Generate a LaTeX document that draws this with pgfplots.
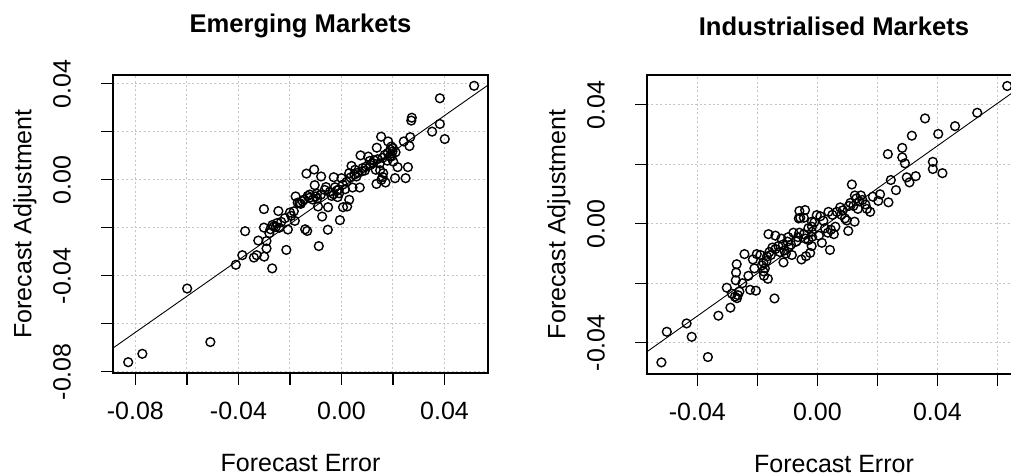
\documentclass[border=0pt]{standalone}
\usepackage{pgfplots}
\usepackage{pgfplotstable}
\pgfplotsset{compat=1.18}
\usepackage{fontspec}
\setmainfont{Liberation Sans}

\pgfplotsset{
  rpanel/.style={
    scale only axis,
    width=187.5pt, height=149pt,
    font=\fontsize{12.5pt}{15pt}\selectfont,
    scaled ticks=false,
    axis line style={line width=0.65pt},
    every tick/.style={black, line width=0.6pt},
    tick align=outside,
    major tick length=6pt,
    xtick pos=bottom, ytick pos=left,
    grid=major,
    major grid style={gray!45, line width=0.5pt, dash pattern=on 1pt off 1.2pt},
    yticklabel style={rotate=90, anchor=south},
    yticklabel shift=11.5pt,
    xticklabel style={anchor=north, yshift=-2pt},
    xticklabel shift=3pt,
    title style={at={(axis description cs:0.5,1)}, anchor=center, yshift=18.5pt,
                 font=\fontsize{12.8pt}{15pt}\selectfont\bfseries},
    xlabel style={at={(axis description cs:0.5,0)}, anchor=center, yshift=-45pt},
    every axis y label/.style={at={(axis description cs:0,0.5)}, xshift=-44pt,
                 rotate=90, anchor=center},
  },
  pts/.style={only marks, mark=o, mark size=2.2pt, mark options={line width=0.7pt, black}},
  fit/.style={black, line width=0.45pt, no marks},
}

% forecast error (x) against forecast adjustment (y), emerging markets
\pgfplotstableread{
x y
-0.0828 -0.0760
-0.0773 -0.0725
-0.0599 -0.0453
-0.0509 -0.0676
-0.0410 -0.0354
-0.0385 -0.0314
-0.0374 -0.0214
-0.0340 -0.0324
-0.0329 -0.0314
-0.0323 -0.0253
-0.0301 -0.0122
-0.0301 -0.0199
-0.0300 -0.0320
-0.0291 -0.0286
-0.0291 -0.0255
-0.0269 -0.0369
-0.0276 -0.0206
-0.0263 -0.0194
-0.0268 -0.0188
-0.0245 -0.0130
-0.0242 -0.0200
-0.0234 -0.0175
-0.0214 -0.0292
-0.0208 -0.0207
-0.0200 -0.0136
-0.0185 -0.0131
-0.0178 -0.0069
-0.0181 -0.0171
-0.0163 -0.0097
-0.0151 -0.0089
-0.0141 -0.0206
-0.0136 0.0026
-0.0133 -0.0213
-0.0131 -0.0067
-0.0123 -0.0061
-0.0106 0.0043
-0.0104 -0.0022
-0.0100 -0.0069
-0.0094 -0.0078
-0.0091 -0.0111
-0.0088 -0.0276
-0.0079 0.0014
-0.0075 -0.0153
-0.0065 -0.0042
-0.0053 -0.0208
-0.0052 -0.0114
-0.0038 -0.0067
-0.0030 0.0011
-0.0025 -0.0031
-0.0017 -0.0044
-0.0009 -0.0056
-0.0006 -0.0168
0.0000 0.0007
0.0006 -0.0114
0.0014 -0.0039
0.0022 -0.0111
0.0030 -0.0083
0.0030 0.0028
0.0039 0.0058
0.0043 -0.0032
0.0053 0.0042
0.0058 0.0014
0.0071 -0.0032
0.0074 0.0102
0.0082 0.0049
0.0091 0.0039
0.0104 0.0097
0.0110 0.0079
0.0123 0.0069
0.0133 0.0042
0.0137 0.0134
0.0136 -0.0017
0.0149 0.0069
0.0154 0.0180
0.0155 0.0000
0.0162 0.0028
0.0168 0.0104
0.0171 -0.0011
0.0181 0.0160
0.0188 0.0097
0.0194 0.0139
0.0198 0.0118
0.0201 0.0076
0.0208 0.0007
0.0218 0.0053
0.0242 0.0160
0.0249 0.0007
0.0258 0.0053
0.0264 0.0141
0.0267 0.0178
0.0271 0.0247
0.0273 0.0259
0.0352 0.0201
0.0382 0.0340
0.0382 0.0233
0.0401 0.0170
0.0515 0.0392
-0.0170 -0.0095
-0.0158 -0.0100
-0.0145 -0.0082
-0.0125 -0.0075
-0.0112 -0.0082
-0.0095 -0.0058
-0.0080 -0.0062
-0.0060 -0.0030
-0.0045 -0.0050
-0.0030 -0.0060
-0.0015 -0.0072
-0.0010 -0.0040
0.0005 -0.0020
0.0020 -0.0008
0.0035 0.0010
0.0050 0.0022
0.0065 0.0030
0.0080 0.0036
0.0095 0.0055
0.0112 0.0062
0.0126 0.0082
0.0140 0.0086
0.0160 0.0092
0.0180 0.0112
0.0190 0.0126
0.0200 0.0132
0.0210 0.0115
-0.0255 -0.0196
-0.0250 -0.0180
-0.0280 -0.0222
-0.0195 -0.0150
-0.0220 -0.0160
0.0195 0.0098
0.0178 0.0080
0.0150 0.0040
0.0160 0.0012
}\emerging

% the same for industrialised markets
\pgfplotstableread{
x y
-0.0520 -0.0466
-0.0502 -0.0363
-0.0436 -0.0335
-0.0419 -0.0380
-0.0365 -0.0448
-0.0330 -0.0309
-0.0302 -0.0215
-0.0290 -0.0282
-0.0285 -0.0235
-0.0275 -0.0245
-0.0265 -0.0240
-0.0260 -0.0228
-0.0268 -0.0250
-0.0272 -0.0190
-0.0271 -0.0164
-0.0269 -0.0136
-0.0243 -0.0102
-0.0224 -0.0222
-0.0205 -0.0225
-0.0202 -0.0102
-0.0185 -0.0140
-0.0180 -0.0160
-0.0178 -0.0175
-0.0170 -0.0125
-0.0168 -0.0110
-0.0165 -0.0185
-0.0143 -0.0251
-0.0163 -0.0035
-0.0140 -0.0040
-0.0120 -0.0050
-0.0097 -0.0045
-0.0113 -0.0130
-0.0150 -0.0080
-0.0140 -0.0085
-0.0130 -0.0075
-0.0125 -0.0095
-0.0115 -0.0070
-0.0110 -0.0090
-0.0105 -0.0100
-0.0100 -0.0060
-0.0095 -0.0080
-0.0088 -0.0070
-0.0085 -0.0105
-0.0155 -0.0105
-0.0160 -0.0095
-0.0180 -0.0130
-0.0175 -0.0150
-0.0060 0.0043
-0.0062 0.0018
-0.0057 0.0020
-0.0045 0.0020
-0.0041 0.0046
-0.0002 0.0029
-0.0018 0.0007
-0.0018 -0.0010
-0.0018 -0.0027
-0.0018 -0.0044
0.0037 0.0040
0.0042 -0.0088
0.0015 -0.0064
-0.0024 -0.0098
-0.0038 -0.0109
-0.0053 -0.0120
-0.0019 -0.0075
0.0076 0.0055
0.0103 -0.0024
0.0098 0.0011
0.0124 0.0007
0.0115 0.0132
0.0110 0.0070
0.0120 0.0060
0.0130 0.0085
0.0140 0.0075
0.0150 0.0080
0.0160 0.0065
0.0165 0.0050
0.0135 0.0050
0.0125 0.0095
0.0105 0.0060
0.0145 0.0095
0.0092 0.0018
-0.0060 -0.0030
-0.0045 -0.0035
-0.0040 -0.0050
-0.0065 -0.0045
-0.0030 -0.0055
-0.0070 -0.0060
0.0045 -0.0020
0.0035 -0.0030
0.0055 -0.0035
0.0025 -0.0015
0.0060 -0.0010
0.0005 -0.0040
0.0020 0.0010
0.0010 0.0025
0.0050 0.0030
0.0065 0.0040
0.0080 0.0030
0.0085 0.0045
-0.0010 0.0005
-0.0030 -0.0015
-0.0080 -0.0030
-0.0210 -0.0150
-0.0230 -0.0175
-0.0250 -0.0200
-0.0215 -0.0120
-0.0190 -0.0105
0.0633 0.0463
0.0533 0.0373
0.0459 0.0328
0.0403 0.0302
0.0359 0.0354
0.0315 0.0296
0.0283 0.0255
0.0235 0.0234
0.0283 0.0223
0.0292 0.0203
0.0385 0.0208
0.0385 0.0184
0.0417 0.0170
0.0298 0.0156
0.0328 0.0160
0.0307 0.0139
0.0245 0.0147
0.0262 0.0113
0.0185 0.0091
0.0209 0.0099
0.0203 0.0077
0.0237 0.0072
0.0176 0.0040
}\industrial

\begin{document}
\begin{tikzpicture}
\begin{axis}[rpanel,
  at={(56.5pt,51.5pt)}, anchor=south west,
  xmin=-0.0887, xmax=0.0569, ymin=-0.0805, ymax=0.0437,
  xtick={-0.08,-0.06,-0.04,-0.02,0,0.02,0.04},
  xticklabels={-0.08,,-0.04,,0.00,,0.04},
  ytick={-0.08,-0.06,-0.04,-0.02,0,0.02,0.04},
  yticklabels={-0.08,,-0.04,,0.00,,0.04},
  title={Emerging Markets},
  xlabel={Forecast Error},
  ylabel={Forecast Adjustment},
]
\addplot[pts] table[x=x, y=y] {\emerging};
\addplot[fit] coordinates {(-0.0887,-0.0701) (0.0569,0.0395)};
\end{axis}

\begin{axis}[rpanel,
  at={(323.5pt,51pt)}, anchor=south west,
  width=187pt, height=149.5pt,
  xmin=-0.0568, xmax=0.0679, ymin=-0.0505, ymax=0.0500,
  xtick={-0.04,-0.02,0,0.02,0.04,0.06},
  xticklabels={-0.04,,0.00,,0.04,{}},
  ytick={-0.04,-0.02,0,0.02,0.04},
  yticklabels={-0.04,,0.00,,0.04},
  title={Industrialised Markets},
  xlabel={Forecast Error},
  ylabel={Forecast Adjustment},
]
\addplot[pts] table[x=x, y=y] {\industrial};
\addplot[fit] coordinates {(-0.0568,-0.0430) (0.0679,0.0461)};
\end{axis}

\pgfresetboundingbox
\useasboundingbox (0,0) rectangle (505.5pt,238pt);
\end{tikzpicture}
\end{document}
